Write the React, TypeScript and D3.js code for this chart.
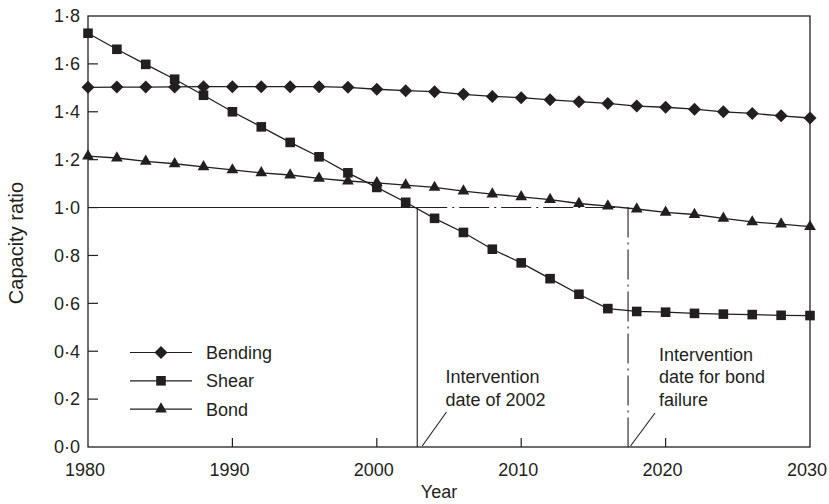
import React, { useRef, useEffect } from 'react';
import * as d3 from 'd3';

// data
const years = [1980, 1982, 1984, 1986, 1988, 1990, 1992, 1994, 1996, 1998, 2000, 2002, 2004, 2006, 2008, 2010, 2012, 2014, 2016, 2018, 2020, 2022, 2024, 2026, 2028, 2030];
const bending = [1.502, 1.503, 1.503, 1.504, 1.505, 1.505, 1.505, 1.505, 1.505, 1.502, 1.494, 1.488, 1.484, 1.473, 1.464, 1.459, 1.45, 1.442, 1.435, 1.424, 1.419, 1.411, 1.4, 1.393, 1.383, 1.374];
const shear = [1.728, 1.661, 1.598, 1.536, 1.469, 1.4, 1.337, 1.272, 1.212, 1.145, 1.084, 1.022, 0.955, 0.896, 0.826, 0.769, 0.703, 0.638, 0.578, 0.566, 0.563, 0.558, 0.555, 0.553, 0.55, 0.549];
const bond = [1.215, 1.207, 1.193, 1.183, 1.17, 1.157, 1.145, 1.136, 1.122, 1.111, 1.103, 1.094, 1.084, 1.069, 1.056, 1.045, 1.033, 1.017, 1.006, 0.994, 0.98, 0.971, 0.955, 0.94, 0.931, 0.92];
const seriesNames = ['Bending', 'Shear', 'Bond'];
const xTicks = [1980, 1990, 2000, 2010, 2020, 2030];
const yTicks = [0, 0.2, 0.4, 0.6, 0.8, 1.0, 1.2, 1.4, 1.6, 1.8];
const threshold = 1.0;
const shearIntervention = 2002.8;
const bondIntervention = 2017.4;
const shearNote = ['Intervention', 'date of 2002'];
const bondNote = ['Intervention', 'date for bond', 'failure'];

const INK = '#231f20';
const FONT = '"Liberation Sans", Arial, sans-serif';

const Chart = () => {
    const svgRef = useRef(null);

    useEffect(() => {
        const width = 829;
        const height = 504;
        const margin = { top: 16, right: 19, bottom: 57, left: 88 };

        const svg = d3.select(svgRef.current);
        svg.selectAll('*').remove();

        const x = d3.scaleLinear().domain([1980, 2030]).range([margin.left, width - margin.right]);
        const y = d3.scaleLinear().domain([0, 1.8]).range([height - margin.bottom, margin.top]);
        const x0 = x.range()[0], x1 = x.range()[1];
        const y0 = y.range()[0], y1 = y.range()[1];

        // frame
        svg.append('rect')
            .attr('x', x0).attr('y', y1)
            .attr('width', x1 - x0).attr('height', y0 - y1)
            .attr('fill', 'none').attr('stroke', INK).attr('stroke-width', 1.3);

        // ticks, pointing inward
        svg.selectAll('.ytick').data(yTicks.slice(1, -1)).join('line')
            .attr('x1', x0).attr('x2', x0 + 10)
            .attr('y1', d => y(d)).attr('y2', d => y(d))
            .attr('stroke', INK).attr('stroke-width', 1.2);
        svg.selectAll('.xtick').data(xTicks.slice(1, -1)).join('line')
            .attr('x1', d => x(d)).attr('x2', d => x(d))
            .attr('y1', y0).attr('y2', y0 - 9)
            .attr('stroke', INK).attr('stroke-width', 1.2);

        const fmt = d3.format('.1f');
        svg.append('g').selectAll('text').data(yTicks).join('text')
            .attr('x', x0 - 8).attr('y', d => y(d)).attr('dy', '0.35em')
            .attr('text-anchor', 'end')
            .text(d => fmt(d).replace('.', '·'));
        svg.append('g').selectAll('text').data(xTicks).join('text')
            .attr('x', d => x(d) - 3).attr('y', y0 + 29)
            .attr('text-anchor', 'middle')
            .text(d => d);

        svg.append('text')
            .attr('x', 439).attr('y', height - 6)
            .attr('text-anchor', 'middle').text('Year');

        // guides and notes
        const guide = (xa, ya, xb, yb, dash) =>
            svg.append('line')
                .attr('x1', xa).attr('y1', ya).attr('x2', xb).attr('y2', yb)
                .attr('stroke', INK).attr('stroke-width', 1.1)
                .attr('stroke-dasharray', dash);
        guide(x0, y(threshold), x(shearIntervention), y(threshold), null);
        guide(x(shearIntervention), y(threshold), x(shearIntervention), y0, null);
        guide(x(shearIntervention), y(threshold), x(bondIntervention), y(threshold), '30 5 2 5');
        guide(x(bondIntervention), y(threshold), x(bondIntervention), y0, '30 5 2 5');

        // series
        const line = d3.line().x(d => x(d[0])).y(d => y(d[1]));
        const diamond = 'M0,-6.5L6.5,0L0,6.5L-6.5,0Z';
        const square = 'M-4.8,-4.8H4.8V4.8H-4.8Z';
        const triangle = d3.symbol(d3.symbolTriangle, 60)();
        const shapes = [diamond, square, triangle];

        [bending, shear, bond].forEach((vals, i) => {
            const pts = years.map((yr, j) => [yr, vals[j]]);
            svg.append('path')
                .datum(pts)
                .attr('fill', 'none').attr('stroke', INK).attr('stroke-width', 1.3)
                .attr('d', line);
            svg.append('g').selectAll('path').data(pts).join('path')
                .attr('transform', d => `translate(${x(d[0])},${y(d[1])})`)
                .attr('d', shapes[i]).attr('fill', INK);
        });

        // legend
        const legend = svg.append('g');
        seriesNames.forEach((name, i) => {
            const ly = 352.5 + i * 28.3;
            legend.append('line')
                .attr('x1', 130).attr('x2', 192).attr('y1', ly).attr('y2', ly)
                .attr('stroke', INK).attr('stroke-width', 1.2);
            legend.append('path')
                .attr('transform', `translate(161,${ly})`)
                .attr('d', shapes[i]).attr('fill', INK);
            legend.append('text')
                .attr('x', 206).attr('y', ly).attr('dy', '0.36em').text(name);
        });

        const note = (lines, tx, ty, lx1, ly1, lx2, ly2) => {
            svg.append('g').selectAll('text').data(lines).join('text')
                .attr('x', tx).attr('y', (d, k) => ty + k * 22.7).text(d => d);
            svg.append('line')
                .attr('x1', lx1).attr('y1', ly1).attr('x2', lx2).attr('y2', ly2)
                .attr('stroke', INK).attr('stroke-width', 1.1);
        };
        note(shearNote, 445.5, 383, x(shearIntervention) + 5, y0 - 1, 446.5, 412);
        note(bondNote, 659, 360.5, x(bondIntervention) + 2.5, y0 - 1, 655, 413);

        svg.selectAll('text')
            .attr('font-family', FONT).attr('font-size', 18).attr('fill', INK);

        // y title is set a little larger
        svg.append('text')
            .attr('transform', 'translate(22.5, 243) rotate(-90)')
            .attr('text-anchor', 'middle')
            .attr('font-family', FONT).attr('font-size', 20).attr('fill', INK)
            .text('Capacity ratio');
    }, []);

    return (
        <svg ref={svgRef} width={829} height={504}
            style={{ position: 'absolute', left: 0, top: 0, background: '#fff' }} />
    );
};

export default function App() {
    return <Chart />;
}
